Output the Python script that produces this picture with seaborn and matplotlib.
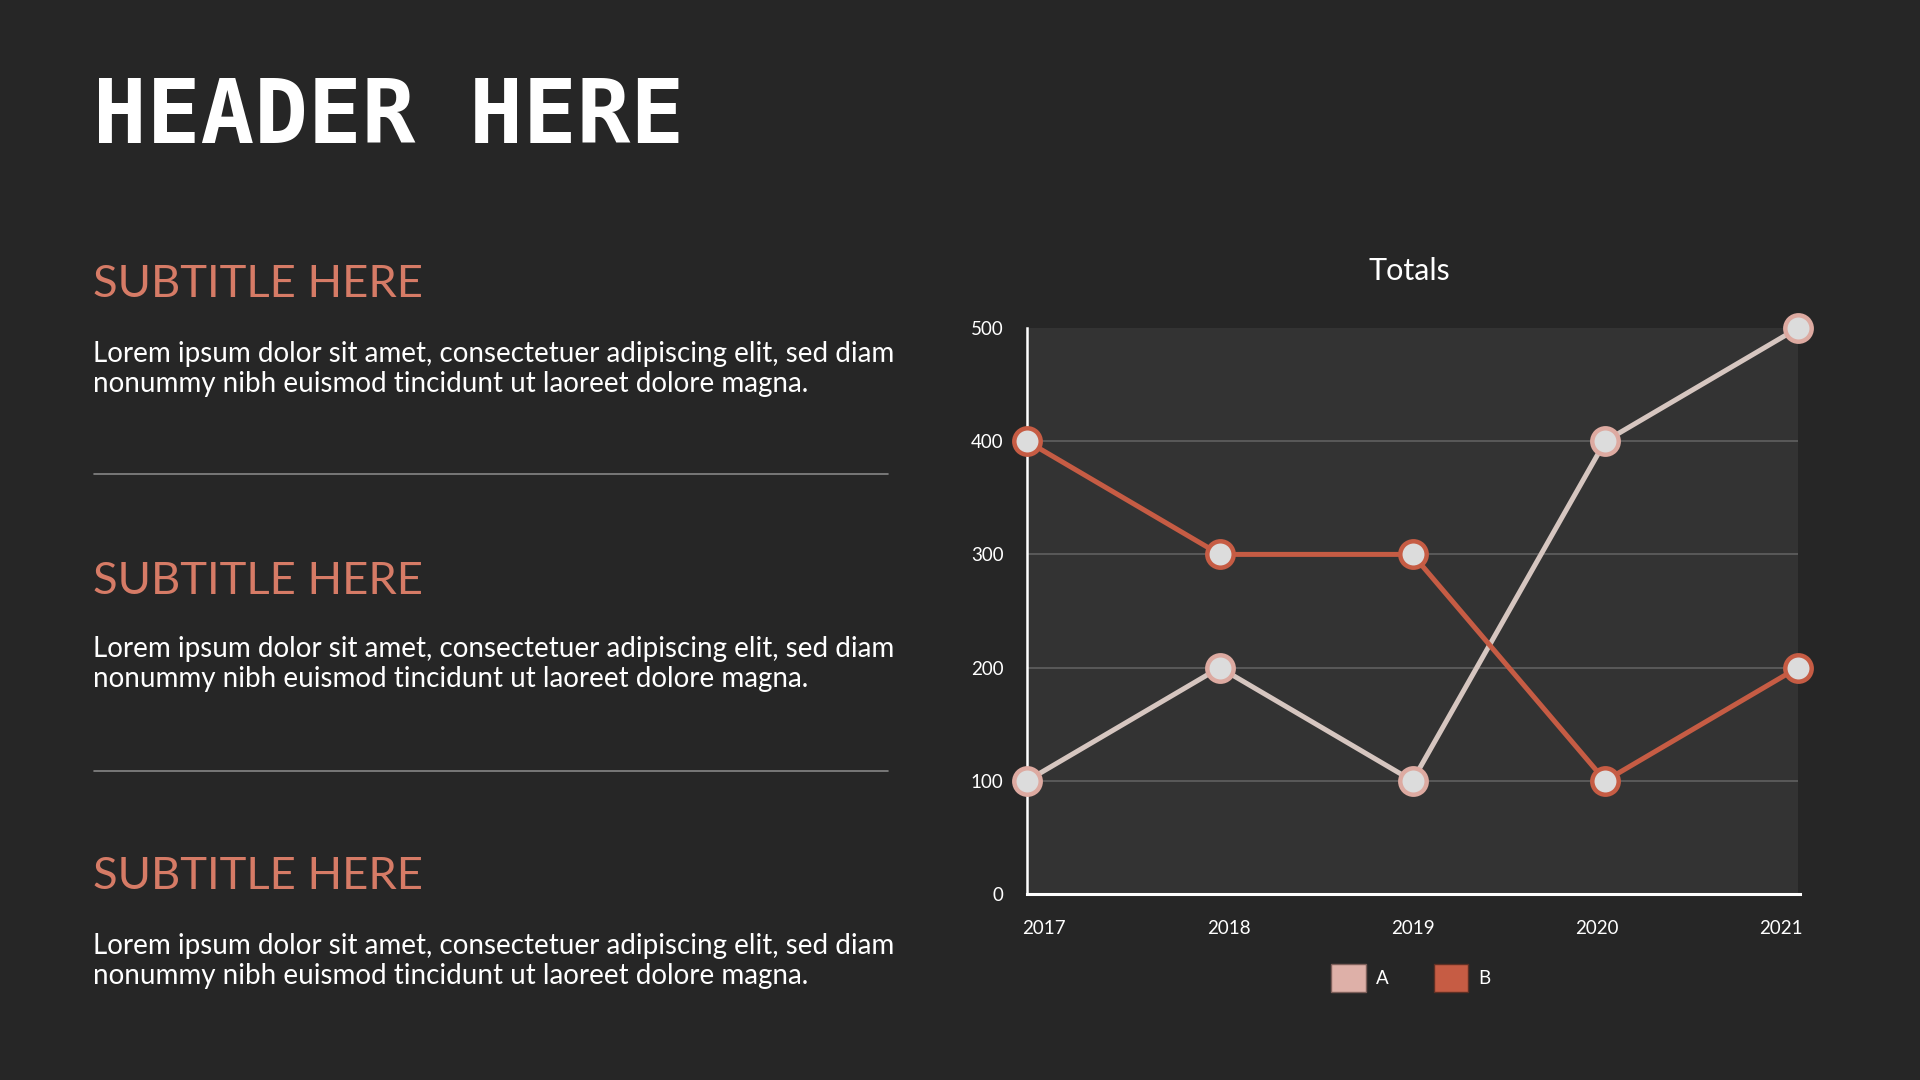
import numpy as np
import pandas as pd
import matplotlib
matplotlib.use("Agg")
import matplotlib.pyplot as plt
from matplotlib.patches import Patch
from matplotlib.lines import Line2D
import seaborn as sns

# ---------------- data ----------------
years = [2017, 2018, 2019, 2020, 2021]
series_a = [100, 200, 100, 400, 500]
series_b = [400, 300, 300, 100, 200]
series_names = ["A", "B"]
y_ticks = [0, 100, 200, 300, 400, 500]

header = "HEADER HERE"
subtitle = "SUBTITLE HERE"
body_lines = ["Lorem ipsum dolor sit amet, consectetuer adipiscing elit, sed diam",
              "nonummy nibh euismod tincidunt ut laoreet dolore magna."]
chart_title = "Totals"

# ---------------- style ----------------
BG = "#262626"
PANEL = "#333333"
SALMON = "#D67B66"
A_LINE = "#D6C6C0"
A_EDGE = "#DDAAA1"
A_PATCH = "#DEB0A8"
B_COL = "#C65C44"
MARK_FACE = "#DCDCDC"
TXT = "#FFFFFF"

sns.set_theme(style="dark")
plt.rcParams["font.family"] = ["Lato", "DejaVu Sans"]

W, H = 1920, 1080
fig = plt.figure(figsize=(W / 100, H / 100), dpi=100, facecolor=BG)
renderer = fig.canvas.get_renderer()


def fx(x):
    return x / W


def fy(y):
    return 1 - y / H


def fit(t, target_px):
    w = t.get_window_extent(renderer=renderer).width
    t.set_fontsize(t.get_fontsize() * target_px / w)
    return t.get_fontsize()


# header
th = fig.text(fx(93), fy(143), header, color=TXT, fontsize=60,
              family=["DejaVu Sans Mono"], fontweight="bold", va="baseline", ha="left")
fit(th, 592)

# subtitles + body
sub_base = [297, 594, 889]
body_base = [[362, 392], [657, 687], [954, 984]]
sub_size = None
body_size = None
for i in range(3):
    ts = fig.text(fx(93), fy(sub_base[i]), subtitle, color=SALMON,
                  fontsize=sub_size or 36, va="baseline", ha="left")
    if sub_size is None:
        sub_size = fit(ts, 330)
    for j, line in enumerate(body_lines):
        tb = fig.text(fx(93), fy(body_base[i][j]), line, color=TXT,
                      fontsize=body_size or 20, va="baseline", ha="left")
        if body_size is None:
            body_size = fit(tb, 800)

# separators
for ysep in [474, 771]:
    fig.add_artist(Line2D([fx(94), fx(888)], [fy(ysep), fy(ysep)],
                          transform=fig.transFigure, color="#858585", lw=1.2))

# ---------------- chart ----------------
left, right, top, bottom = 1027, 1798, 328, 894
ax = fig.add_axes([fx(left), fy(bottom), fx(right - left), (bottom - top) / H])
ax.set_facecolor(PANEL)

df = pd.DataFrame({
    "year": years * 2,
    "value": series_a + series_b,
    "series": [series_names[0]] * len(years) + [series_names[1]] * len(years),
})

line_kw = dict(marker="o", markersize=19, markerfacecolor=MARK_FACE,
               markeredgewidth=3.2, linewidth=3.6, clip_on=False, legend=False)
sns.lineplot(data=df[df["series"] == "A"], x="year", y="value", ax=ax,
             color=A_LINE, markeredgecolor=A_EDGE, zorder=5, **line_kw)
sns.lineplot(data=df[df["series"] == "B"], x="year", y="value", ax=ax,
             color=B_COL, markeredgecolor=B_COL, zorder=6, **line_kw)

ax.set_xlim(years[0], years[-1])
ax.set_ylim(y_ticks[0], y_ticks[-1])
ax.set_xlabel("")
ax.set_ylabel("")

ax.set_yticks(y_ticks)
ax.set_yticklabels([str(v) for v in y_ticks])
yr = np.array(years, dtype=float)
mid = yr.mean()
ax.set_xticks(yr + (mid - yr) * 0.045)
ax.set_xticklabels([str(y) for y in years])
ax.tick_params(axis="both", length=0, colors=TXT, labelsize=13.5)
ax.tick_params(axis="y", pad=17)
ax.tick_params(axis="x", pad=19)

ax.grid(False)
for v in y_ticks[1:-1]:
    ax.axhline(v, color="#5c5c5c", lw=1.3, zorder=1)

for s in ["top", "right"]:
    ax.spines[s].set_visible(False)
ax.spines["left"].set_color("#FFFFFF")
ax.spines["left"].set_linewidth(1.8)
ax.spines["bottom"].set_color("#FFFFFF")
ax.spines["bottom"].set_linewidth(2.2)
ax.spines["bottom"].set_bounds(years[0], years[-1] + 0.01)

fig.text(fx(1409), fy(280), chart_title, color=TXT, fontsize=22,
         ha="center", va="baseline")

handles = [Patch(facecolor=A_PATCH, edgecolor="#7d5f5a", lw=1.0),
           Patch(facecolor=B_COL, edgecolor="#5e3025", lw=1.0)]
leg = fig.legend(handles, series_names, loc="center",
                 bbox_to_anchor=(fx(1411), fy(978)), bbox_transform=fig.transFigure,
                 ncol=2, frameon=False, fontsize=13.5, handlelength=1.85,
                 handleheight=1.85, handletextpad=0.55, columnspacing=2.4,
                 labelcolor=TXT)

fig.savefig("out.png", dpi=100, facecolor=BG)
